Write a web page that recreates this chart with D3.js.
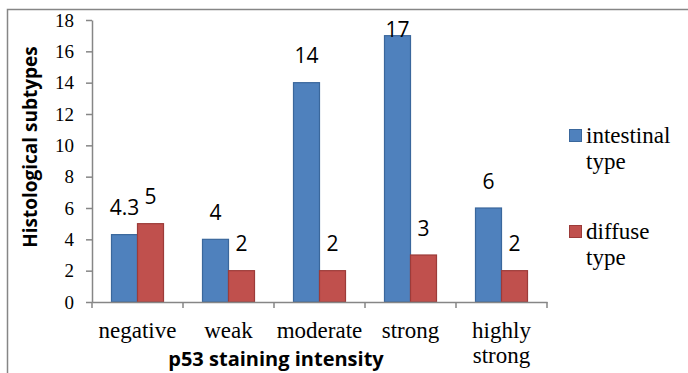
<!DOCTYPE html>
<html>
<head>
<meta charset="utf-8">
<script src="https://cdn.jsdelivr.net/npm/d3@7"></script>
<style>
  body { margin: 0; background: #fff; }
  svg { display: block; }
</style>
</head>
<body>
<div id="chart"></div>
<script>
// data
const categories = ["negative", "weak", "moderate", "strong", "highly strong"];
const seriesNames = ["intestinal type", "diffuse type"];
const intestinal = [4.3, 4, 14, 17, 6];
const diffuse = [5, 2, 2, 3, 2];
const yTicks = [0, 2, 4, 6, 8, 10, 12, 14, 16, 18];

const W = 688, H = 373;
const plot = { left: 92, right: 547, top: 20, bottom: 302 };
const colors = ["#4f81bd", "#c0504d"];
const strokes = ["#3a679c", "#9c3b39"];
const axisColor = "#868686";
const serif = '"Liberation Serif"';
const sans = '"Open Sans"';

const svg = d3.select("#chart")
  .append("svg")
  .attr("width", W)
  .attr("height", H);

// outer chart border (only top and left are visible)
svg.append("rect")
  .attr("x", 7.5)
  .attr("y", 9.5)
  .attr("width", 720)
  .attr("height", 420)
  .attr("fill", "none")
  .attr("stroke", axisColor)
  .attr("stroke-width", 1.5);

const x0 = d3.scaleBand()
  .domain(categories)
  .range([plot.left, plot.right])
  .paddingInner(0)
  .paddingOuter(0);

// Excel gap width 150%: two bars fill 2/3.5 of the band
const x1 = d3.scaleBand()
  .domain([0, 1])
  .range([x0.bandwidth() * 0.75 / 3.5, x0.bandwidth() * (1 - 0.75 / 3.5)]);

const y = d3.scaleLinear()
  .domain([0, 18])
  .range([plot.bottom, plot.top]);

// Y axis
const yAxis = svg.append("g")
  .attr("transform", `translate(${plot.left},0)`)
  .call(d3.axisLeft(y).tickValues(yTicks).tickSize(6).tickPadding(12).tickSizeOuter(0));
yAxis.select(".domain").attr("stroke", axisColor).attr("stroke-width", 1.5);
yAxis.selectAll(".tick line").attr("stroke", axisColor).attr("stroke-width", 1.5);
yAxis.selectAll(".tick text")
  .attr("fill", "#000")
  .style("font-family", serif)
  .style("font-size", "19px");

// bars
const rows = categories.map((c, i) => ({ cat: c, vals: [intestinal[i], diffuse[i]] }));

const groups = svg.selectAll("g.grp")
  .data(rows)
  .enter().append("g")
  .attr("class", "grp")
  .attr("transform", d => `translate(${x0(d.cat)},0)`);

groups.selectAll("rect")
  .data(d => d.vals.map((v, k) => ({ v, k })))
  .enter().append("rect")
  .attr("x", d => x1(d.k))
  .attr("y", d => y(d.v))
  .attr("width", x1.bandwidth())
  .attr("height", d => y(0) - y(d.v))
  .attr("fill", d => colors[d.k])
  .attr("stroke", d => strokes[d.k])
  .attr("stroke-width", 1.2);

// data labels
groups.selectAll("text.lbl")
  .data(d => d.vals.map((v, k) => ({ v, k })))
  .enter().append("text")
  .attr("class", "lbl")
  .attr("text-anchor", "middle")
  .attr("x", d => x1(d.k) + x1.bandwidth() / 2)
  .attr("y", d => Math.max(y(d.v) - 19.5, 36.7))
  .style("font-family", sans)
  .style("font-size", "21px")
  .attr("fill", "#000")
  .text(d => d.v);

// X axis
const xAxis = svg.append("g")
  .attr("transform", `translate(0,${plot.bottom})`)
  .call(d3.axisBottom(x0).tickSize(0).tickFormat(""));
xAxis.select(".domain").attr("stroke", axisColor).attr("stroke-width", 1.5);
xAxis.selectAll(".tick").remove();

// category boundary ticks
const bounds = categories.map(c => x0(c)).concat([plot.right]);
svg.append("g")
  .selectAll("line")
  .data(bounds)
  .enter().append("line")
  .attr("x1", d => d)
  .attr("x2", d => d)
  .attr("y1", plot.bottom)
  .attr("y2", plot.bottom + 6)
  .attr("stroke", axisColor)
  .attr("stroke-width", 1.5);

// category labels (wrapped like the original)
const catLines = { "highly strong": ["highly", "strong"] };
svg.append("g")
  .selectAll("text")
  .data(categories)
  .enter().append("text")
  .attr("text-anchor", "middle")
  .attr("x", d => x0(d) + x0.bandwidth() / 2)
  .attr("y", 338)
  .style("font-family", serif)
  .style("font-size", "23px")
  .attr("fill", "#000")
  .each(function(d) {
    const lines = catLines[d] || [d];
    const t = d3.select(this);
    lines.forEach((l, i) => {
      t.append("tspan")
        .attr("x", x0(d) + x0.bandwidth() / 2)
        .attr("dy", i === 0 ? 0 : 24.5)
        .text(l);
    });
  });

// axis titles
svg.append("text")
  .attr("text-anchor", "middle")
  .attr("x", 276)
  .attr("y", 366)
  .style("font-family", sans)
  .style("font-weight", "bold")
  .style("font-size", "20px")
  .attr("fill", "#000")
  .text("p53 staining intensity");

svg.append("text")
  .attr("text-anchor", "middle")
  .attr("transform", `translate(37,147) rotate(-90)`)
  .style("font-family", sans)
  .style("font-weight", "bold")
  .style("font-size", "19px")
  .attr("fill", "#000")
  .text("Histological subtypes");

// legend
const legendLines = [["intestinal", "type"], ["diffuse", "type"]];
const legend = svg.append("g").attr("transform", "translate(569,0)");
const legendY = [129, 225];
seriesNames.forEach((name, k) => {
  legend.append("rect")
    .attr("x", 0.5)
    .attr("y", legendY[k] + 0.5)
    .attr("width", 12)
    .attr("height", 12)
    .attr("fill", colors[k])
    .attr("stroke", strokes[k])
    .attr("stroke-width", 1);
  const t = legend.append("text")
    .attr("x", 17)
    .attr("y", legendY[k] + 14)
    .style("font-family", serif)
    .style("font-size", "23px")
    .attr("fill", "#000");
  legendLines[k].forEach((l, i) => {
    t.append("tspan")
      .attr("x", 17)
      .attr("dy", i === 0 ? 0 : 25.5)
      .text(l);
  });
});
</script>
</body>
</html>
